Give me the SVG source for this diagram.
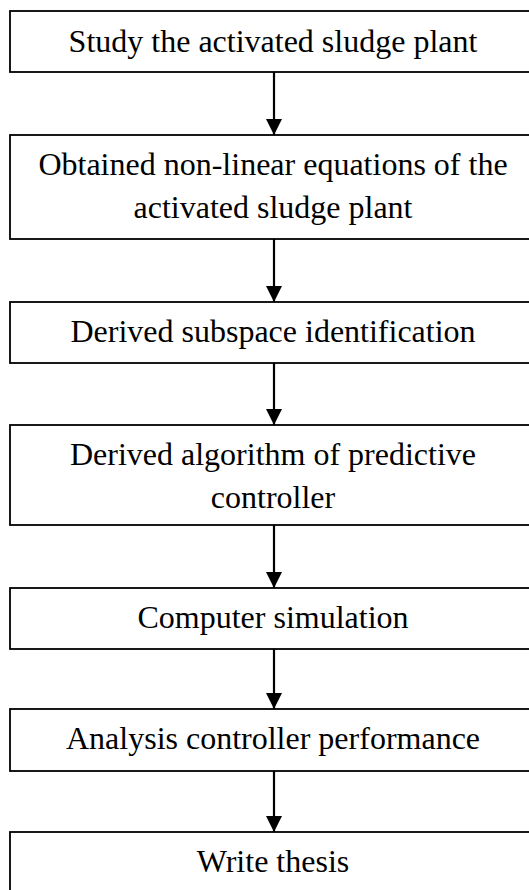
<svg xmlns="http://www.w3.org/2000/svg" width="529" height="890" viewBox="0 0 529 890">
<style>
.box{fill:#fff;stroke:#000;stroke-width:1.8}
.t{font-family:"Liberation Serif","Times New Roman",serif;font-size:32px;fill:#000;text-anchor:middle}
.ln{stroke:#000;stroke-width:2.2;fill:none}
</style>
<defs>
<marker id="ah" markerWidth="16" markerHeight="16" viewBox="0 0 16 16" refX="16" refY="8" orient="auto" markerUnits="userSpaceOnUse">
<path d="M0,0 L16,8 L0,16 Z" fill="#000"/>
</marker>
</defs>
<rect width="529" height="890" fill="#fff"/>
<g id="n1"><rect class="box" x="10" y="11" width="528" height="61"/><text class="t" x="273" y="52">Study the activated sludge plant</text></g>
<g id="n2"><rect class="box" x="10" y="135" width="528" height="104"/><text class="t" x="273" y="175">Obtained non-linear equations of the</text><text class="t" x="273" y="218">activated sludge plant</text></g>
<g id="n3"><rect class="box" x="10" y="302" width="528" height="61"/><text class="t" x="273" y="342">Derived subspace identification</text></g>
<g id="n4"><rect class="box" x="10" y="425" width="528" height="100"/><text class="t" x="273" y="465">Derived algorithm of predictive</text><text class="t" x="273" y="508">controller</text></g>
<g id="n5"><rect class="box" x="10" y="588" width="528" height="61"/><text class="t" x="273" y="628">Computer simulation</text></g>
<g id="n6"><rect class="box" x="10" y="709" width="528" height="62"/><text class="t" x="273" y="749">Analysis controller performance</text></g>
<g id="n7"><rect class="box" x="10" y="832" width="528" height="80"/><text class="t" x="273" y="872">Write thesis</text></g>
<g id="connectors">
<line class="ln" x1="274" y1="72" x2="274" y2="135" marker-end="url(#ah)"/>
<line class="ln" x1="274" y1="239" x2="274" y2="302" marker-end="url(#ah)"/>
<line class="ln" x1="274" y1="363" x2="274" y2="425" marker-end="url(#ah)"/>
<line class="ln" x1="274" y1="525" x2="274" y2="588" marker-end="url(#ah)"/>
<line class="ln" x1="274" y1="649" x2="274" y2="709" marker-end="url(#ah)"/>
<line class="ln" x1="274" y1="771" x2="274" y2="832" marker-end="url(#ah)"/>
</g>
</svg>
